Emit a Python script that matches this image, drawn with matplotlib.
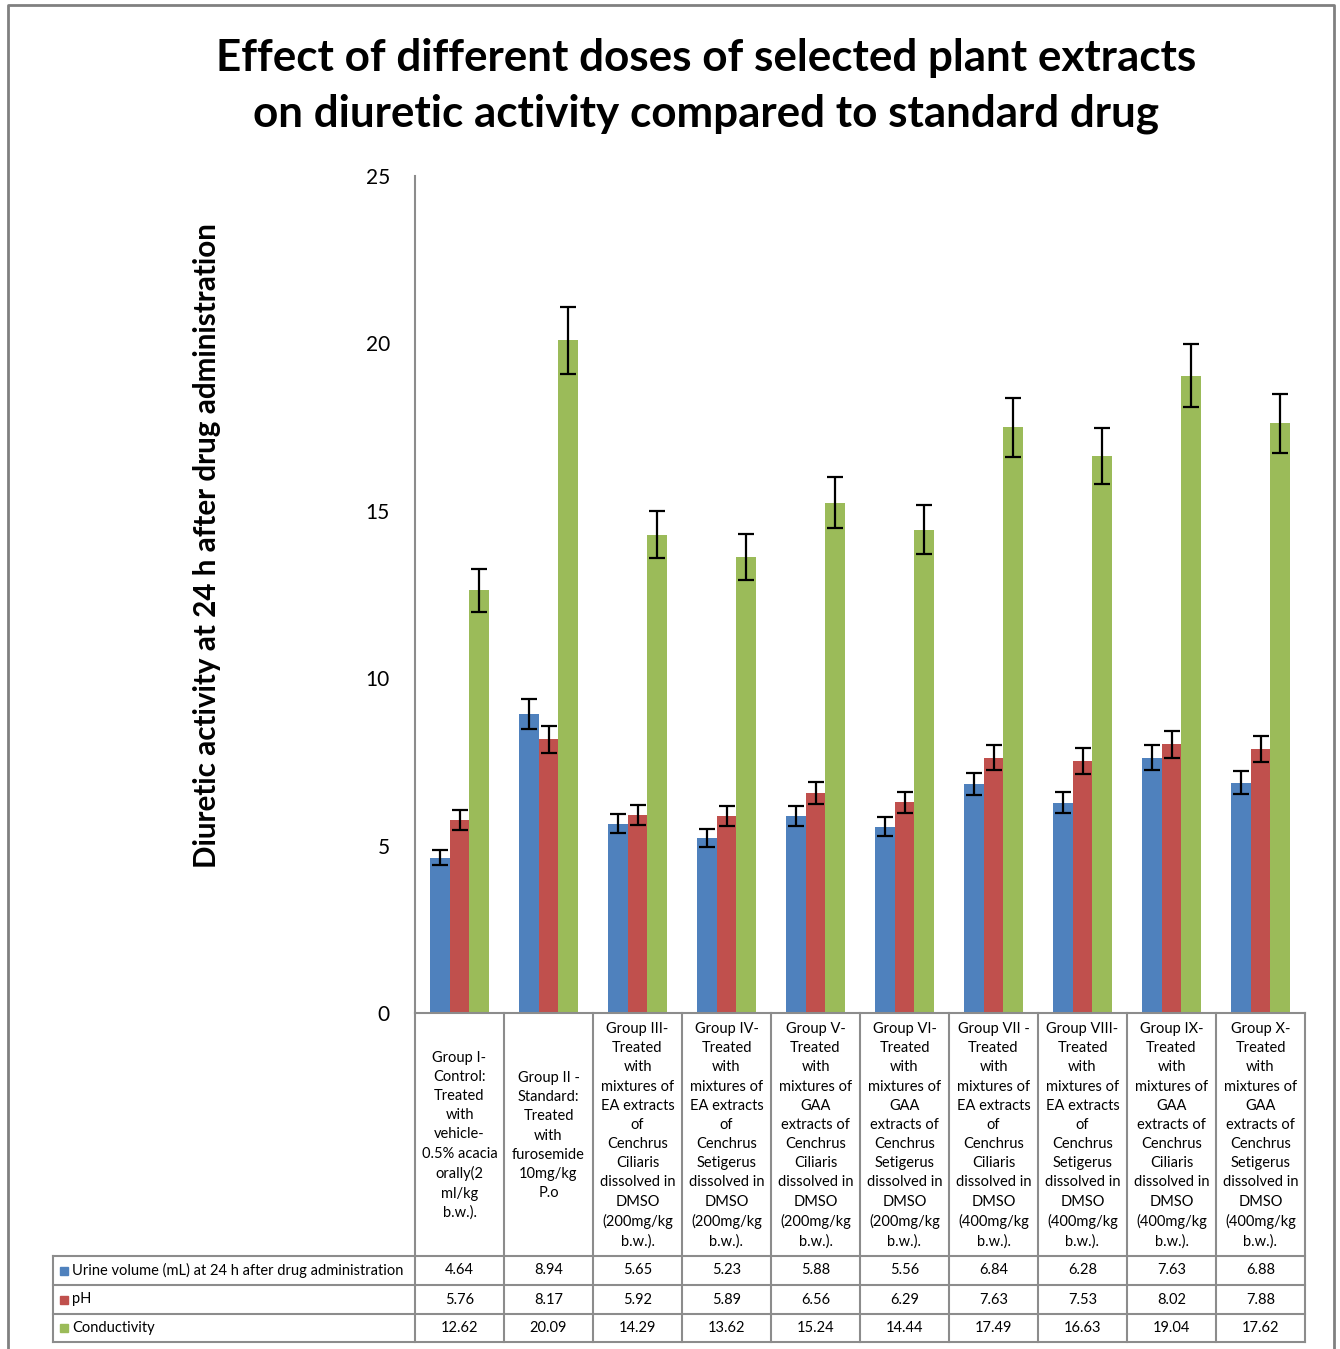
import matplotlib.pyplot as plt
import numpy as np

plt.rcParams['font.family'] = ['Lato', 'DejaVu Sans']

# 数据
groups = [
    "Group I-\nControl:\nTreated\nwith\nvehicle-\n0.5% acacia\norally(2\nml/kg\nb.w.).",
    "Group II -\nStandard:\nTreated\nwith\nfurosemide\n10mg/kg\nP.o",
    "Group III-\nTreated\nwith\nmixtures of\nEA extracts\nof\nCenchrus\nCiliaris\ndissolved in\nDMSO\n(200mg/kg\nb.w.).",
    "Group IV-\nTreated\nwith\nmixtures of\nEA extracts\nof\nCenchrus\nSetigerus\ndissolved in\nDMSO\n(200mg/kg\nb.w.).",
    "Group V-\nTreated\nwith\nmixtures of\nGAA\nextracts of\nCenchrus\nCiliaris\ndissolved in\nDMSO\n(200mg/kg\nb.w.).",
    "Group VI-\nTreated\nwith\nmixtures of\nGAA\nextracts of\nCenchrus\nSetigerus\ndissolved in\nDMSO\n(200mg/kg\nb.w.).",
    "Group VII -\nTreated\nwith\nmixtures of\nEA extracts\nof\nCenchrus\nCiliaris\ndissolved in\nDMSO\n(400mg/kg\nb.w.).",
    "Group VIII-\nTreated\nwith\nmixtures of\nEA extracts\nof\nCenchrus\nSetigerus\ndissolved in\nDMSO\n(400mg/kg\nb.w.).",
    "Group IX-\nTreated\nwith\nmixtures of\nGAA\nextracts of\nCenchrus\nCiliaris\ndissolved in\nDMSO\n(400mg/kg\nb.w.).",
    "Group X-\nTreated\nwith\nmixtures of\nGAA\nextracts of\nCenchrus\nSetigerus\ndissolved in\nDMSO\n(400mg/kg\nb.w.).",
]
series_names = ["Urine volume (mL) at 24 h after drug administration", "pH", "Conductivity"]
urine = [4.64, 8.94, 5.65, 5.23, 5.88, 5.56, 6.84, 6.28, 7.63, 6.88]
ph = [5.76, 8.17, 5.92, 5.89, 6.56, 6.29, 7.63, 7.53, 8.02, 7.88]
cond = [12.62, 20.09, 14.29, 13.62, 15.24, 14.44, 17.49, 16.63, 19.04, 17.62]
urine_err = [0.23, 0.45, 0.28, 0.26, 0.29, 0.28, 0.34, 0.31, 0.38, 0.34]
ph_err = [0.29, 0.41, 0.30, 0.29, 0.33, 0.31, 0.38, 0.38, 0.40, 0.39]
cond_err = [0.63, 1.00, 0.71, 0.68, 0.76, 0.72, 0.87, 0.83, 0.95, 0.88]
colors = ['#4F81BD', '#C0504D', '#9BBB59']

W, H = 1340, 1349
fig = plt.figure(figsize=(W / 100, H / 100), dpi=100, facecolor='white')

# 像素布局
x0, x1 = 415, 1305
y_top, y_zero = 176, 1013
row_y = [1256, 1285, 1314, 1342]
tab_left = 53
gray = '#8c8c8c'

ax = fig.add_axes([x0 / W, 1 - y_zero / H, (x1 - x0) / W, (y_zero - y_top) / H])
n = len(groups)
x = np.arange(n)
bw = 0.22
for k, (vals, errs) in enumerate(zip([urine, ph, cond], [urine_err, ph_err, cond_err])):
    ax.bar(x + (k - 1) * bw, vals, bw, color=colors[k], edgecolor='none',
           yerr=errs, error_kw=dict(ecolor='black', elinewidth=1.6, capsize=6, capthick=1.6))
ax.set_xlim(-0.5, n - 0.5)
ax.set_ylim(0, 25)
ax.set_yticks(np.arange(0, 26, 5))
ax.set_xticks([])
ax.tick_params(axis='y', length=0, labelsize=15, pad=18)
for s in ['top', 'right']:
    ax.spines[s].set_visible(False)
for s in ['left', 'bottom']:
    ax.spines[s].set_color(gray)
    ax.spines[s].set_linewidth(1.5)
ax.set_ylabel("Diuretic activity at 24 h after drug administration", fontsize=21.3,
              fontweight='bold', labelpad=0)
ax.yaxis.set_label_coords((221 - x0) / (x1 - x0), 0.5 + (546 - (y_top + y_zero) / 2) / -(y_zero - y_top))

fig.text(706 / W, 1 - 86 / H,
         "Effect of different doses of selected plant extracts\non diuretic activity compared to standard drug",
         ha='center', va='center', fontsize=31.7, fontweight='bold', linespacing=1.5)

# 表格 (像素坐标)
tab = fig.add_axes([0, 0, 1, 1], facecolor='none')
tab.set_xlim(0, W)
tab.set_ylim(H, 0)
tab.axis('off')

cw = (x1 - x0) / n
for i in range(n + 1):
    xc = x0 + i * cw
    tab.plot([xc, xc], [y_zero, row_y[-1]], color=gray, lw=1.5)
tab.plot([tab_left, tab_left], [row_y[0], row_y[-1]], color=gray, lw=1.5)
for yy in row_y:
    tab.plot([tab_left, x1], [yy, yy], color=gray, lw=1.5)

for i, g in enumerate(groups):
    tab.text(x0 + (i + 0.5) * cw, (y_zero + row_y[0]) / 2 + 1, g, ha='center', va='center',
             fontsize=10.5, linespacing=1.47)

for r, (name, vals) in enumerate(zip(series_names, [urine, ph, cond])):
    yc = (row_y[r] + row_y[r + 1]) / 2
    tab.add_patch(plt.Rectangle((60, yc - 4), 8, 8, color=colors[r]))
    tab.text(72, yc, name, ha='left', va='center', fontsize=10.5)
    for i, v in enumerate(vals):
        tab.text(x0 + (i + 0.5) * cw, yc, f"{v:.2f}", ha='center', va='center', fontsize=10.5)

# 外框
tab.plot([8, 8, 1334, 1334], [H, 5, 5, H], color='#808080', lw=2)

fig.savefig('out.png', dpi=100, facecolor='white')
